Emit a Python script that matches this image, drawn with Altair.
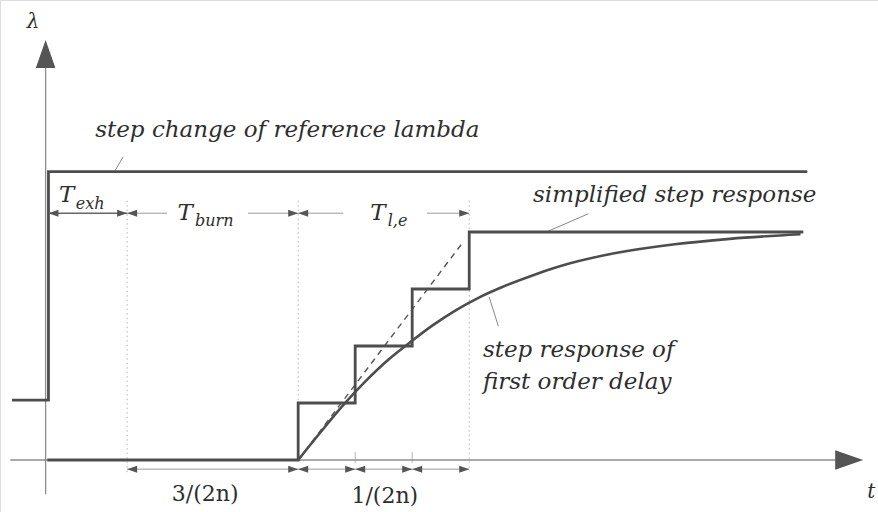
import altair as alt
import pandas as pd

# Time axis in units of 1/(2n); lambda in units of one stair height.
t_ref_step = 0.05      # step of the reference lambda
t_exh_end = 1.43       # end of the exhaust time T_exh
t_burn_end = 4.43      # end of T_burn = 3/(2n) later
stair_t = [4.43, 5.43, 6.43, 7.43]
stair_lambda = [1, 2, 3, 4]
t_end = 13.29
lambda_init = 1.05
lambda_ref = 5.06

# first order delay response
curve_t = [4.43, 4.8, 5.2, 5.6, 6.0, 6.4, 6.8, 7.2, 7.6, 8.0,
           8.6, 9.2, 10.0, 11.0, 12.0, 13.24]
curve_lambda = [0.0, 0.46, 0.94, 1.37, 1.75, 2.07, 2.37, 2.63, 2.85, 3.03,
                3.26, 3.45, 3.63, 3.78, 3.88, 3.96]

DARK = "#4d4d4d"
MID = "#8c8c8c"
LIGHT = "#b4b4b4"
TEXT = "#2e2e2e"
SERIF = "DejaVu Serif"

XS = alt.Scale(domain=[-0.8, 14.6], nice=False, zero=False)
YS = alt.Scale(domain=[-0.912, 8.07], nice=False, zero=False)


def x_enc(field="t"):
    return alt.X(f"{field}:Q", scale=XS, axis=None)


def y_enc(field="lam"):
    return alt.Y(f"{field}:Q", scale=YS, axis=None)


def path_layer(points, color, width, dash=None, interpolate="linear"):
    df = pd.DataFrame({"t": [p[0] for p in points],
                       "lam": [p[1] for p in points],
                       "i": list(range(len(points)))})
    kw = dict(color=color, strokeWidth=width, interpolate=interpolate,
              strokeCap="butt", strokeJoin="miter")
    if dash:
        kw["strokeDash"] = dash
    return alt.Chart(df).mark_line(**kw).encode(
        x=x_enc(), y=y_enc(), order="i:Q")


def rule_layer(segments, color, width, dash=None):
    df = pd.DataFrame(segments, columns=["t", "lam", "t2", "lam2"])
    kw = dict(color=color, strokeWidth=width)
    if dash:
        kw["strokeDash"] = dash
    return alt.Chart(df).mark_rule(**kw).encode(
        x=x_enc(), y=y_enc(), x2="t2:Q", y2="lam2:Q")


def head_layer(points, shape, size, color):
    df = pd.DataFrame(points, columns=["t", "lam"])
    return alt.Chart(df).mark_point(
        shape=shape, size=size, filled=True, color=color, opacity=1,
        strokeWidth=0).encode(x=x_enc(), y=y_enc())


def text_layer(items, size, style="italic", align="left", font=SERIF):
    df = pd.DataFrame(items, columns=["label", "t", "lam"])
    return alt.Chart(df).mark_text(
        font=font, fontSize=size, fontStyle=style, align=align,
        baseline="middle", color=TEXT).encode(
        x=x_enc(), y=y_enc(), text="label:N")


# arrowhead shapes with the tip at the symbol origin
UP = "M0,0L-0.7,2L0.7,2Z"
RIGHT = "M0,0L-2,-0.7L-2,0.7Z"
LEFT = "M0,0L2,-0.7L2,0.7Z"

# coordinate axes
axes = rule_layer([[0.0, -0.6, 0.0, 7.0], [-0.62, 0.0, 14.0, 0.0]], MID, 1.3)
axis_heads = (head_layer([[0.0, 7.37]], UP, 784, "#555555")
              + head_layer([[14.34, 0.0]], RIGHT, 784, "#555555"))

# dotted extension lines and small ticks
ext_lines = rule_layer([[t_exh_end, 4.55, t_exh_end, -0.25],
                        [t_burn_end, 4.55, t_burn_end, 0.0],
                        [stair_t[-1], 4.55, stair_t[-1], -0.2]],
                       LIGHT, 1, dash=[1.5, 3])
ticks = rule_layer([[stair_t[1], 0.14, stair_t[1], -0.05],
                    [stair_t[2], 0.14, stair_t[2], -0.05]], LIGHT, 1)

# reference lambda step
ref_pts = [(-0.59, lambda_init), (t_ref_step, lambda_init),
           (t_ref_step, lambda_ref), (13.36, lambda_ref)]
ref_line = path_layer(ref_pts, DARK, 2.8)

# simplified (staircase) step response
stair_pts = [(0.03, 0.0), (stair_t[0], 0.0)]
for i, (ts, ls) in enumerate(zip(stair_t, stair_lambda)):
    stair_pts.append((ts, ls))
    nxt = stair_t[i + 1] if i + 1 < len(stair_t) else t_end
    stair_pts.append((nxt, ls))
stair_line = path_layer(stair_pts, DARK, 2.8)

# first order delay
curve = path_layer(list(zip(curve_t, curve_lambda)), DARK, 2.6,
                   interpolate="monotone")

# dashed ramp through the stairs
ramp = path_layer([(stair_t[0], 0.0), (7.32, 3.82)], "#555555", 1.4,
                  dash=[6, 5])

# dimension lines
DIM_UP = 4.33
DIM_LO = -0.16
dim_lines = rule_layer([
    [t_exh_end, DIM_UP, 2.13, DIM_UP],
    [3.55, DIM_UP, t_burn_end, DIM_UP],
    [t_burn_end, DIM_UP, 5.22, DIM_UP],
    [6.69, DIM_UP, stair_t[-1], DIM_UP],
    [t_exh_end, DIM_LO, t_burn_end, DIM_LO],
    [t_burn_end, DIM_LO, stair_t[-1], DIM_LO],
], "#9a9a9a", 1)
exh_line = rule_layer([[t_ref_step, DIM_UP, t_exh_end, DIM_UP]], "#666666", 1.5)

left_tips = [[t_ref_step, DIM_UP], [t_exh_end, DIM_UP], [t_burn_end, DIM_UP],
             [t_exh_end, DIM_LO], [stair_t[0], DIM_LO], [stair_t[1], DIM_LO],
             [stair_t[2], DIM_LO]]
right_tips = [[t_exh_end, DIM_UP], [t_burn_end, DIM_UP], [stair_t[-1], DIM_UP],
              [t_burn_end, DIM_LO], [stair_t[1], DIM_LO], [stair_t[2], DIM_LO],
              [stair_t[3], DIM_LO]]
dim_heads = (head_layer(left_tips, LEFT, 100, "#555555")
             + head_layer(right_tips, RIGHT, 100, "#555555"))

# leader lines from labels to curves
leaders = rule_layer([[1.36, 5.32, 1.22, 5.08],
                      [9.52, 4.32, 8.76, 3.99],
                      [7.94, 2.35, 7.78, 2.86]], "#888888", 1)

# labels
captions = text_layer([
    ["step change of reference lambda", 0.87, 5.79],
    ["simplified step response", 8.55, 4.65],
    ["step response of", 7.67, 1.93],
    ["first order delay", 7.67, 1.37],
], 23)
symbols = text_layer([
    ["λ", -0.22, 7.68],
    ["t", 14.48, -0.56],
], 20, align="center")
t_main = text_layer([
    ["T", 0.37, 4.65],
    ["T", 2.45, 4.34],
    ["T", 5.83, 4.34],
], 23, align="center")
t_sub = text_layer([
    ["exh", 0.53, 4.50],
    ["burn", 2.62, 4.20],
    ["l,e", 6.0, 4.20],
], 16, align="left")
durations = text_layer([
    ["3/(2n)", 2.80, -0.60],
    ["1/(2n)", 5.95, -0.63],
], 22, style="normal", align="center")

chart = alt.layer(
    ext_lines, ticks, axes, dim_lines, exh_line, leaders, ramp,
    ref_line, stair_line, curve, axis_heads, dim_heads,
    captions, symbols, t_main, t_sub, durations,
).properties(
    width=878, height=512,
    autosize=alt.AutoSizeParams(type="none"),
    padding=0,
).configure_view(stroke=None).configure(background="white")

chart.save("out.html", embed_options={"renderer": "svg", "actions": False})
